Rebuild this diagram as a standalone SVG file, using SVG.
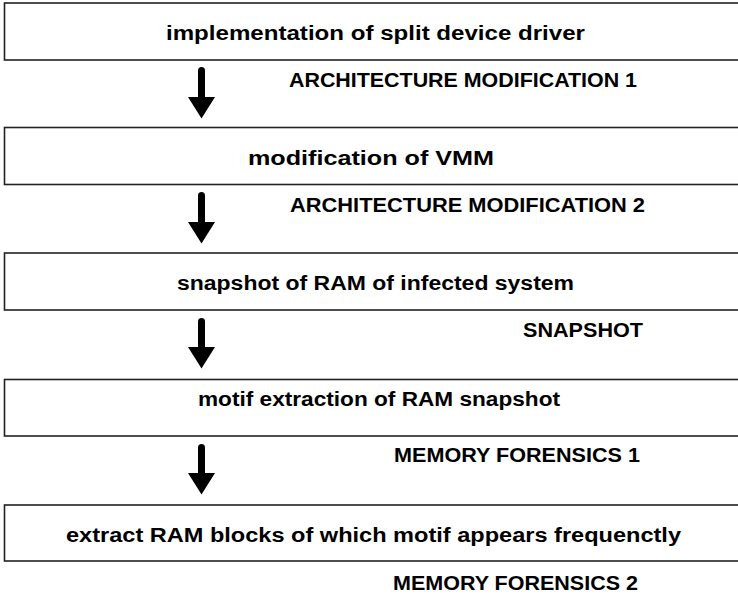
<svg xmlns="http://www.w3.org/2000/svg" width="738" height="596" viewBox="0 0 738 596">
<style>
.box{fill:#fff;stroke:#222;stroke-width:1.6}
.t{font-family:"Liberation Sans",Arial,sans-serif;font-weight:bold;font-size:20px;fill:#000}
.l{font-family:"Liberation Sans",Arial,sans-serif;font-weight:bold;font-size:21px;fill:#000}
.a{stroke:#000;stroke-width:7;stroke-linecap:round;fill:none;marker-end:url(#head)}
</style>
<defs>
<marker id="head" markerUnits="userSpaceOnUse" markerWidth="22" markerHeight="27" refX="0" refY="13.5" orient="auto" viewBox="0 0 22 27">
<path d="M0,0 L21.5,13.5 L0,27 Z" fill="#000"/>
</marker>
</defs>
<rect width="738" height="596" fill="#fff"/>
<g id="n1">
<rect class="box" x="4.5" y="3" width="740" height="57"/>
<text class="t" x="166" y="40" textLength="419" lengthAdjust="spacingAndGlyphs">implementation of split device driver</text>
</g>
<g id="n2">
<rect class="box" x="4.5" y="127.5" width="740" height="57"/>
<text class="t" x="248" y="165" textLength="246" lengthAdjust="spacingAndGlyphs">modification of VMM</text>
</g>
<g id="n3">
<rect class="box" x="4.5" y="253" width="740" height="57"/>
<text class="t" x="177" y="290" textLength="397" lengthAdjust="spacingAndGlyphs">snapshot of RAM of infected system</text>
</g>
<g id="n4">
<rect class="box" x="4.5" y="379.5" width="740" height="56.5"/>
<text class="t" x="198" y="406" textLength="362" lengthAdjust="spacingAndGlyphs">motif extraction of RAM snapshot</text>
</g>
<g id="n5">
<rect class="box" x="4.5" y="505" width="740" height="56"/>
<text class="t" x="66" y="542" textLength="615" lengthAdjust="spacingAndGlyphs">extract RAM blocks of which motif appears frequenctly</text>
</g>
<g id="connectors">
<line class="a" x1="201.5" y1="70.5" x2="201.5" y2="97"/>
<line class="a" x1="201.5" y1="195.5" x2="201.5" y2="222"/>
<line class="a" x1="201.5" y1="321.5" x2="201.5" y2="347"/>
<line class="a" x1="201.5" y1="447.5" x2="201.5" y2="473"/>
</g>
<g id="labels">
<text class="l" x="289" y="87" textLength="348" lengthAdjust="spacingAndGlyphs">ARCHITECTURE MODIFICATION 1</text>
<text class="l" x="290" y="212" textLength="355" lengthAdjust="spacingAndGlyphs">ARCHITECTURE MODIFICATION 2</text>
<text class="l" x="523" y="337" textLength="120" lengthAdjust="spacingAndGlyphs">SNAPSHOT</text>
<text class="l" x="394" y="462" textLength="246" lengthAdjust="spacingAndGlyphs">MEMORY FORENSICS 1</text>
<text class="l" x="393" y="590" textLength="245" lengthAdjust="spacingAndGlyphs">MEMORY FORENSICS 2</text>
</g>
</svg>
